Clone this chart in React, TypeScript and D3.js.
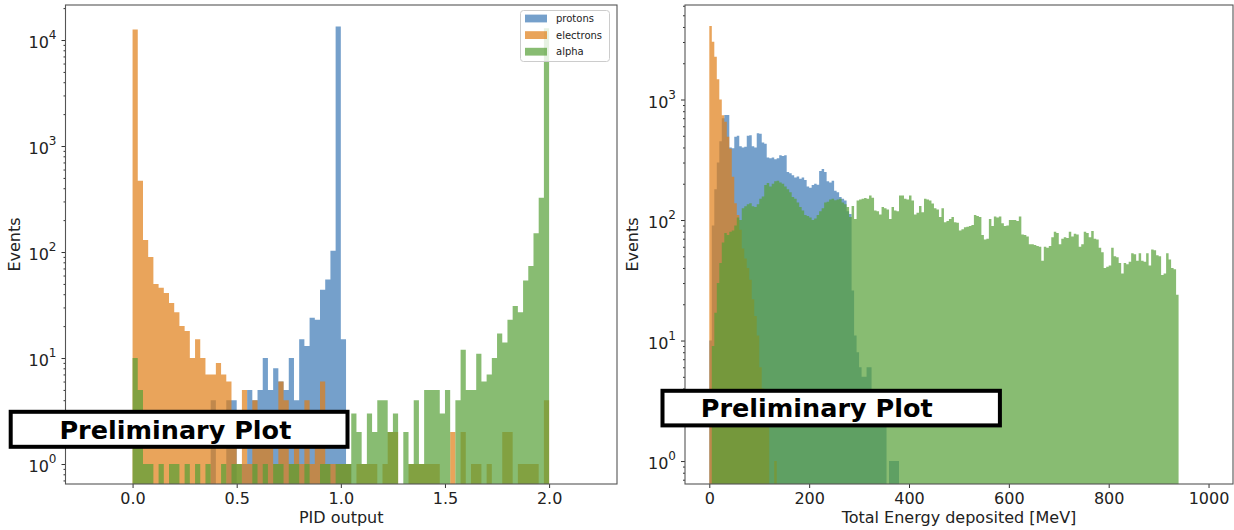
import React, { useEffect, useRef } from 'react';
import * as d3 from 'd3';

const width = 1234;
const height = 530;
const font = "'DejaVu Sans', sans-serif";

// PID output histogram, bins of 0.025 starting at 0.0
const pidBinWidth = 0.025;
const pidProtons = [
  0, 0, 0, 0, 0, 0, 0, 0, 0, 0,
  0, 0, 0, 0, 0, 4, 0, 0, 4, 4,
  0, 1, 5, 4, 5, 10, 5, 8, 6, 5,
  10, 4, 15, 13, 24, 23, 44, 55, 103, 13400,
  15, 1, 0, 0, 0, 0, 0, 0, 0, 0,
  0, 0, 0, 0, 0, 0, 0, 0, 0, 0,
  0, 0, 0, 0, 0, 0, 0, 0, 0, 0,
  0, 0, 0, 0, 0, 0, 0, 0, 0, 0,
];
const pidElectrons = [
  12600, 470, 130, 90, 50, 46, 41, 33, 27, 20,
  18, 10, 15, 10, 7, 7, 9, 7, 6, 3,
  1, 5, 1, 4, 2, 2, 3, 1, 6, 4,
  1, 3, 1, 4, 1, 2, 6, 1, 1, 1,
  1, 1, 0, 1, 1, 1, 1, 0, 1, 2,
  2, 0, 0, 1, 1, 1, 1, 1, 1, 0,
  0, 2, 0, 2, 0, 1, 1, 0, 1, 0,
  0, 2, 2, 0, 1, 1, 1, 1, 0, 4,
];
const pidAlpha = [
  10, 5, 1, 1, 0, 1, 0, 1, 1, 0,
  1, 0, 1, 0, 1, 0, 0, 1, 0, 1,
  1, 0, 0, 1, 0, 1, 0, 1, 1, 0,
  1, 1, 0, 1, 0, 0, 1, 1, 0, 1,
  1, 1, 3, 2, 1, 3, 2, 4, 4, 2,
  3, 0, 2, 1, 4, 1, 5, 5, 5, 3,
  5, 0, 4, 12, 5, 5, 11, 6, 7, 10,
  17, 14, 23, 31, 27, 54, 74, 150, 325, 12900,
];

// Total energy histogram, bins of 5 MeV starting at 0
const energyBinWidth = 5;
const energyProtons = [
  10, 90, 180, 300, 450, 700, 743, 743, 400, 395,
  490, 500, 410, 400, 405, 500, 505, 410, 400, 525,
  520, 440, 430, 330, 325, 330, 320, 325, 345, 340,
  345, 250, 244, 235, 225, 230, 220, 225, 215, 190,
  185, 195, 200, 196, 255, 265, 250, 210, 205, 212,
  175, 170, 155, 150, 145, 118, 112, 26, 11, 8,
  6, 5, 5, 6, 6, 3, 2, 2, 2, 2,
  2, 0, 1, 1, 1, 1,
];
const energyElectrons = [
  4070, 3020, 2265, 1470, 1000, 740, 655, 490, 390, 229,
  138, 110, 83, 58, 48, 40, 32, 22, 16, 11,
  6, 4, 3, 2, 0, 0, 1,
];
const energyAlpha = [
  0, 9, 17, 30, 44, 65, 78, 75, 80, 82,
  90, 105, 100, 125, 130, 135, 138, 130, 128, 135,
  150, 157, 195, 203, 190, 200, 210, 212, 205, 200,
  190, 180, 170, 155, 150, 140, 128, 120, 110, 108,
  105, 100, 103, 110, 118, 125, 140, 142, 148, 150,
  146, 148, 150, 140, 135, 128, 106, 131, 102, 145,
  148, 150, 152, 150, 160, 153, 120, 118, 111, 128,
  125, 122, 102, 128, 120, 118, 160, 160, 150, 148,
  160, 145, 111, 115, 131, 116, 150, 148, 145, 137,
  125, 122, 106, 125, 96, 98, 102, 106, 96, 95,
  82, 84, 87, 88, 89, 91, 110, 108, 106, 75,
  69, 70, 102, 89, 107, 105, 107, 94, 89, 90,
  100, 100, 100, 98, 107, 76, 75, 73, 63, 63,
  62, 61, 60, 46, 60, 59, 61, 72, 80, 78,
  63, 70, 72, 71, 80, 73, 77, 76, 60, 63,
  80, 78, 72, 81, 70, 69, 59, 54, 40, 41,
  42, 59, 50, 49, 44, 36, 44, 43, 45, 53,
  52, 46, 53, 46, 45, 53, 42, 57, 56, 51,
  50, 35, 36, 53, 47, 40, 39, 24,
];

const seriesNames = ['protons', 'electrons', 'alpha'];
const seriesColors = ['rgb(58,119,181)', 'rgb(224,125,21)', 'rgb(85,159,54)'];
const barOpacity = 0.7;

const pidTicks = [0, 0.5, 1.0, 1.5, 2.0];
const energyTicks = [0, 200, 400, 600, 800, 1000];

const leftPanel = {
  id: 'pid',
  left: 65.5, right: 617, top: 5, bottom: 484,
  xDomain: [-0.322, 2.326], yDomain: [0.648, 21400],
  binWidth: pidBinWidth,
  series: [pidProtons, pidElectrons, pidAlpha],
  xTicks: pidTicks, xFormat: d3.format('.1f'),
  decades: [0, 1, 2, 3, 4],
  xLabel: 'PID output', yLabelX: 20,
  legend: true,
  box: { x: 10.7, y: 411.8, w: 336.8, h: 35, textX: 59.4, baseline: 438.5 },
};

const rightPanel = {
  id: 'energy',
  left: 685, right: 1233, top: 5, bottom: 484,
  xDomain: [-48.7, 1049], yDomain: [0.645, 6085],
  binWidth: energyBinWidth,
  series: [energyProtons, energyElectrons, energyAlpha],
  xTicks: energyTicks, xFormat: d3.format('d'),
  decades: [0, 1, 2, 3],
  xLabel: 'Total Energy deposited [MeV]', yLabelX: 638,
  legend: false,
  box: { x: 662.5, y: 390.8, w: 337.4, h: 34.6, textX: 700.7, baseline: 417 },
};

function drawPanel(svg: any, p: any) {
  const x = d3.scaleLinear().domain(p.xDomain).range([p.left, p.right]);
  const y = d3.scaleLog().domain(p.yDomain).range([p.bottom, p.top]);

  const clipId = 'clip-' + p.id;
  svg.append('clipPath').attr('id', clipId).append('rect')
    .attr('x', p.left).attr('y', p.top)
    .attr('width', p.right - p.left).attr('height', p.bottom - p.top);

  const plot = svg.append('g').attr('clip-path', `url(#${clipId})`);

  // each series drawn as one step outline, so neighbouring bars have no seams
  p.series.forEach((counts: number[], si: number) => {
    const path = d3.path();
    let i = 0;
    while (i < counts.length) {
      if (!(counts[i] > 0)) { i++; continue; }
      path.moveTo(x(i * p.binWidth), p.bottom + 5);
      while (i < counts.length && counts[i] > 0) {
        const yy = y(counts[i]);
        path.lineTo(x(i * p.binWidth), yy);
        path.lineTo(x((i + 1) * p.binWidth), yy);
        i++;
      }
      path.lineTo(x(i * p.binWidth), p.bottom + 5);
      path.closePath();
    }
    plot.append('path')
      .attr('d', path.toString())
      .attr('fill', seriesColors[si])
      .attr('fill-opacity', barOpacity);
  });

  // x axis
  const xAxis = svg.append('g')
    .attr('transform', `translate(0,${p.bottom})`)
    .call(d3.axisBottom(x).tickValues(p.xTicks).tickFormat(p.xFormat).tickSize(4).tickPadding(5));
  xAxis.select('.domain').remove();
  xAxis.selectAll('line').attr('stroke', '#333');
  xAxis.selectAll('text').attr('font-size', 16).attr('font-family', font).attr('fill', '#222');

  // y axis, major and minor ticks
  const majors = p.decades.map((k: number) => Math.pow(10, k));
  const minors: number[] = [];
  for (let k = -1; k <= 5; k++) {
    for (let m = 2; m <= 9; m++) {
      const v = m * Math.pow(10, k);
      if (v > p.yDomain[0] && v < p.yDomain[1]) minors.push(v);
    }
  }
  const yMajor = svg.append('g').attr('transform', `translate(${p.left},0)`)
    .call(d3.axisLeft(y).tickValues(majors).tickFormat(() => '').tickSize(4));
  yMajor.select('.domain').remove();
  yMajor.selectAll('line').attr('stroke', '#333');
  const yMinor = svg.append('g').attr('transform', `translate(${p.left},0)`)
    .call(d3.axisLeft(y).tickValues(minors).tickFormat(() => '').tickSize(2));
  yMinor.select('.domain').remove();
  yMinor.selectAll('line').attr('stroke', '#333');

  p.decades.forEach((k: number) => {
    const t = svg.append('text')
      .attr('x', p.left - 9)
      .attr('y', y(Math.pow(10, k)) + 8)
      .attr('text-anchor', 'end')
      .attr('font-family', font)
      .attr('font-size', 16)
      .attr('fill', '#222');
    t.append('tspan').text('10');
    t.append('tspan').attr('dy', -9).attr('font-size', 12).text(String(k));
  });

  // frame
  svg.append('rect')
    .attr('x', p.left).attr('y', p.top)
    .attr('width', p.right - p.left).attr('height', p.bottom - p.top)
    .attr('fill', 'none').attr('stroke', '#555').attr('stroke-width', 1.1);

  // axis labels
  svg.append('text')
    .attr('x', (p.left + p.right) / 2).attr('y', 523)
    .attr('text-anchor', 'middle')
    .attr('font-family', font).attr('font-size', 16).attr('fill', '#222')
    .text(p.xLabel);
  svg.append('text')
    .attr('transform', `translate(${p.yLabelX},${(p.top + p.bottom) / 2}) rotate(-90)`)
    .attr('text-anchor', 'middle')
    .attr('font-family', font).attr('font-size', 16).attr('fill', '#222')
    .text('Events');

  if (p.legend) {
    const lg = svg.append('g');
    lg.append('rect')
      .attr('x', 520.5).attr('y', 10.5).attr('width', 89).attr('height', 51).attr('rx', 3)
      .attr('fill', '#fff').attr('fill-opacity', 0.8)
      .attr('stroke', '#ccc').attr('stroke-width', 1);
    seriesNames.forEach((name, i) => {
      const cy = 18.5 + i * 16.6;
      lg.append('rect')
        .attr('x', 525).attr('y', cy - 3.9).attr('width', 22).attr('height', 7.8)
        .attr('fill', seriesColors[i]).attr('fill-opacity', barOpacity);
      lg.append('text')
        .attr('x', 556).attr('y', cy + 3.6)
        .attr('font-family', font).attr('font-size', 10).attr('fill', '#222')
        .text(name);
    });
  }

  // "Preliminary Plot" stamp
  const b = p.box;
  svg.append('rect')
    .attr('x', b.x).attr('y', b.y).attr('width', b.w).attr('height', b.h)
    .attr('fill', '#fff').attr('stroke', '#000').attr('stroke-width', 4);
  svg.append('text')
    .attr('x', b.textX).attr('y', b.baseline)
    .attr('font-family', font).attr('font-weight', 'bold').attr('font-size', 25.5).attr('fill', '#000')
    .text('Preliminary Plot');
}

export default function App() {
  const ref = useRef<SVGSVGElement>(null);

  useEffect(() => {
    const svg = d3.select(ref.current);
    svg.selectAll('*').remove();
    drawPanel(svg, leftPanel);
    drawPanel(svg, rightPanel);
    return () => {
      svg.selectAll('*').remove();
    };
  }, []);

  return (
    <svg
      ref={ref}
      width={width}
      height={height}
      style={{ position: 'absolute', left: 0, top: 0, background: '#fff' }}
    />
  );
}
